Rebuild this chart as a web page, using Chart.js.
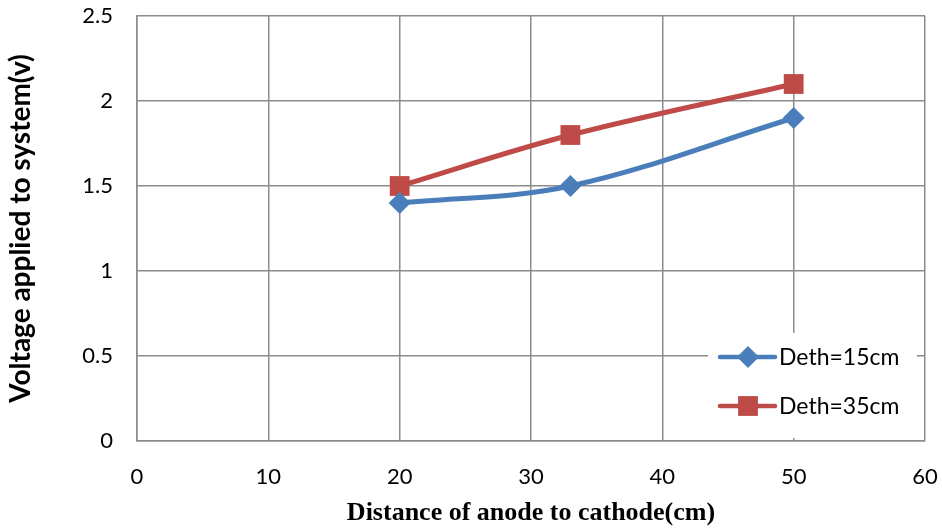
<!DOCTYPE html>
<html>
<head>
<meta charset="utf-8">
<script src="https://cdn.jsdelivr.net/npm/chart.js@4.4.1/dist/chart.umd.min.js"></script>
<style>
  html, body { margin: 0; padding: 0; background: #fff; }
  #wrap { width: 942px; height: 529px; position: relative; }
</style>
</head>
<body>
<div id="wrap"><canvas id="chart"></canvas></div>
<script>
(function(){
    'use strict';

    // data
    var distance = [20, 33, 50];
    var voltage15 = [1.4, 1.5, 1.9];
    var voltage35 = [1.5, 1.8, 2.1];
    var seriesNames = ['Deth=15cm', 'Deth=35cm'];
    var xTicks = [0, 10, 20, 30, 40, 50, 60];
    var yTicks = [0, 0.5, 1, 1.5, 2, 2.5];

    var BLUE = '#4a7ebb';
    var RED = '#be4b48';
    var GRID = '#8c8c8c';
    var tickFont = { family: 'Lato', size: 22 };

    function pts(xs, ys){
        return xs.map(function(x, i){ return { x: x, y: ys[i] }; });
    }

    // legend drawn inside the plot, bottom right, on a white box
    var boxLegend = {
        id: 'boxLegend',
        beforeDatasetsDraw: function(chart){
            var ctx = chart.ctx, a = chart.chartArea;
            var bx = a.right - 217, by = a.bottom - 108;
            ctx.save();
            ctx.fillStyle = '#fff';
            ctx.fillRect(bx, by, 209, 105);
            ctx.font = '23px Lato';
            ctx.textBaseline = 'middle';
            chart.data.datasets.forEach(function(ds, i){
                var y = by + 24 + i * 49;
                ctx.strokeStyle = ds.borderColor;
                ctx.lineWidth = 4.5;
                ctx.lineCap = 'round';
                ctx.beginPath();
                ctx.moveTo(bx + 12, y);
                ctx.lineTo(bx + 67, y);
                ctx.stroke();
                ctx.fillStyle = ds.backgroundColor;
                Chart.helpers.drawPoint(ctx, {
                    pointStyle: ds.pointStyle,
                    radius: ds.pointRadius,
                    borderWidth: 0
                }, bx + 40, y);
                ctx.fillStyle = '#000';
                ctx.fillText(ds.label, bx + 71, y + 1);
            });
            ctx.restore();
        }
    };

    new Chart(document.getElementById('chart'), {
        type: 'line',
        data: {
            datasets: [{
                label: seriesNames[0],
                data: pts(distance, voltage15),
                borderColor: BLUE,
                backgroundColor: BLUE,
                borderWidth: 5,
                pointStyle: 'rectRot',
                pointRadius: 11,
                pointHoverRadius: 11,
                pointBorderWidth: 0,
                tension: 0.35
            }, {
                label: seriesNames[1],
                data: pts(distance, voltage35),
                borderColor: RED,
                backgroundColor: RED,
                borderWidth: 5,
                pointStyle: 'rect',
                pointRadius: 14,
                pointHoverRadius: 14,
                pointBorderWidth: 0,
                tension: 0.35
            }]
        },
        options: {
            responsive: true,
            maintainAspectRatio: false,
            animation: false,
            layout: { padding: 0 },
            plugins: {
                legend: { display: false },
                tooltip: { enabled: false }
            },
            scales: {
                x: {
                    type: 'linear',
                    min: 0, max: 60,
                    afterBuildTicks: function(s){ s.ticks = xTicks.map(function(v){ return { value: v }; }); },
                    grid: { color: GRID, lineWidth: 1.5, drawTicks: false },
                    border: { color: GRID, width: 1.5 },
                    ticks: { color: '#000', font: tickFont, padding: 23, maxRotation: 0 },
                    title: {
                        display: true,
                        text: 'Distance of anode to cathode(cm)',
                        color: '#000',
                        font: { family: 'Liberation Serif', size: 26, weight: 'bold' },
                        padding: { top: 6, bottom: 0 }
                    },
                    afterFit: function(s){
                        s.height = 88;
                        s.paddingLeft = 0;
                        s.paddingRight = 17;
                    }
                },
                y: {
                    min: 0, max: 2.5,
                    afterBuildTicks: function(s){ s.ticks = yTicks.map(function(v){ return { value: v }; }); },
                    grid: { color: GRID, lineWidth: 1.5, drawTicks: false },
                    border: { color: GRID, width: 1.5 },
                    ticks: {
                        color: '#000', font: tickFont, padding: 24,
                        callback: function(v){ return String(v); }
                    },
                    title: {
                        display: true,
                        text: 'Voltage applied to system(v)',
                        color: '#000',
                        font: { family: 'Lato', size: 28, weight: 'bold' },
                        padding: { top: 4, bottom: 0 }
                    },
                    afterFit: function(s){
                        s.width = 137;
                        s.paddingTop = 16;
                        s.paddingBottom = 0;
                    }
                }
            }
        },
        plugins: [boxLegend]
    });
}());
</script>
</body>
</html>
